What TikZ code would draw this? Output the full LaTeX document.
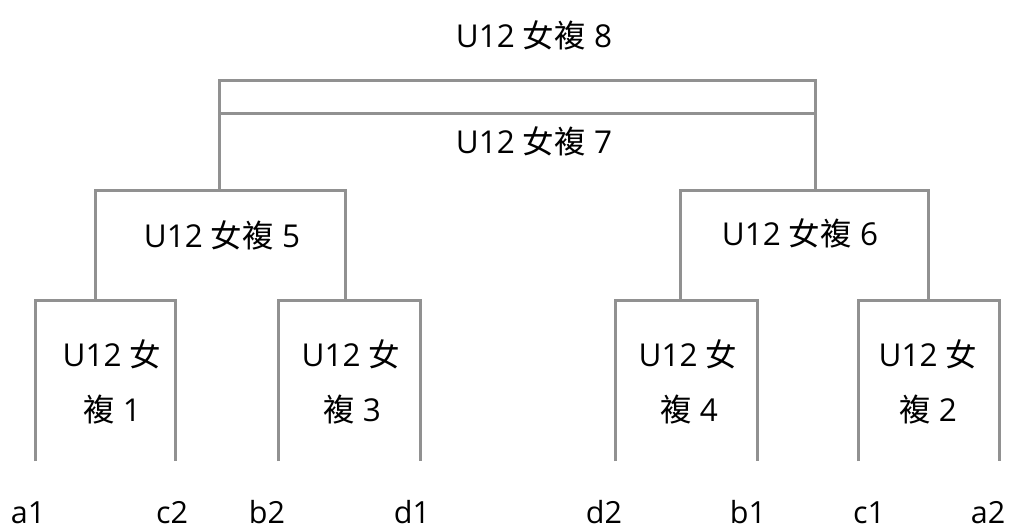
\documentclass[tikz,border=0pt]{standalone}
\usepackage{fontspec}
\setmainfont{Open Sans}
\newfontfamily\cjkf{Noto Sans CJK TC}
\newcommand{\nv}{{\cjkf 女}}
\newcommand{\fu}{{\cjkf 複}}
\definecolor{lg}{RGB}{145,145,145}
\begin{document}
\begin{tikzpicture}[x=1pt,y=-1pt,
  br/.style={draw=lg,line width=3pt},
  lbl/.style={inner sep=0pt,anchor=base,font=\fontsize{31.5}{36}\selectfont},
  plbl/.style={inner sep=0pt,anchor=base,font=\fontsize{30.5}{36}\selectfont}]
\useasboundingbox (0,0) rectangle (1010,528);
% round 1 coordinates
\foreach \n/\x in {a1/35,c2/175,b2/278,d1/420,d2/615,b1/757,c1/858,a2/999}{
  \coordinate (\n t) at (\x,300);
  \coordinate (\n b) at (\x,461);
}
% round 2
\coordinate (m5l) at (95,190);  \coordinate (m5lb) at (95,300);
\coordinate (m5r) at (345,190); \coordinate (m5rb) at (345,300);
\coordinate (m6l) at (680,190); \coordinate (m6lb) at (680,300);
\coordinate (m6r) at (928,190); \coordinate (m6rb) at (928,300);
% final
\coordinate (tl) at (219,80);  \coordinate (tlb) at (219,190);
\coordinate (tr) at (815,80);  \coordinate (trb) at (815,190);
\coordinate (ml) at (219,113); \coordinate (mr) at (815,113);

\draw[br] (a1b) -- (a1t) -- (c2t) -- (c2b);
\draw[br] (b2b) -- (b2t) -- (d1t) -- (d1b);
\draw[br] (d2b) -- (d2t) -- (b1t) -- (b1b);
\draw[br] (c1b) -- (c1t) -- (a2t) -- (a2b);
\draw[br] (m5lb) -- (m5l) -- (m5r) -- (m5rb);
\draw[br] (m6lb) -- (m6l) -- (m6r) -- (m6rb);
\draw[br] (tlb) -- (tl) -- (tr) -- (trb);
\draw[br] (ml) -- (mr);

% labels
\node[lbl] (L8) at (534,47) {U12 \nv\fu{} 8};
\node[lbl] (L7) at (534,153) {U12 \nv\fu{} 7};
\node[lbl] (L5) at (222,247) {U12 \nv\fu{} 5};
\node[lbl] (L6) at (800,245) {U12 \nv\fu{} 6};

\node[lbl] (L1a) at (112,366) {U12 \nv};
\node[lbl] (L1b) at (112,421) {\fu{} 1};
\node[lbl] (L3a) at (351,366) {U12 \nv};
\node[lbl] (L3b) at (352,421) {\fu{} 3};
\node[lbl] (L4a) at (688,366) {U12 \nv};
\node[lbl] (L4b) at (689,421) {\fu{} 4};
\node[lbl] (L2a) at (928,366) {U12 \nv};
\node[lbl] (L2b) at (928,421) {\fu{} 2};

\node[plbl] (pa1) at (28,523) {a1};
\node[plbl] (pc2) at (172,523) {c2};
\node[plbl] (pb2) at (267,523) {b2};
\node[plbl] (pd1) at (412,523) {d1};
\node[plbl] (pd2) at (604,523) {d2};
\node[plbl] (pb1) at (748,523) {b1};
\node[plbl] (pc1) at (869,523) {c1};
\node[plbl] (pa2) at (988,523) {a2};
\end{tikzpicture}
\end{document}
